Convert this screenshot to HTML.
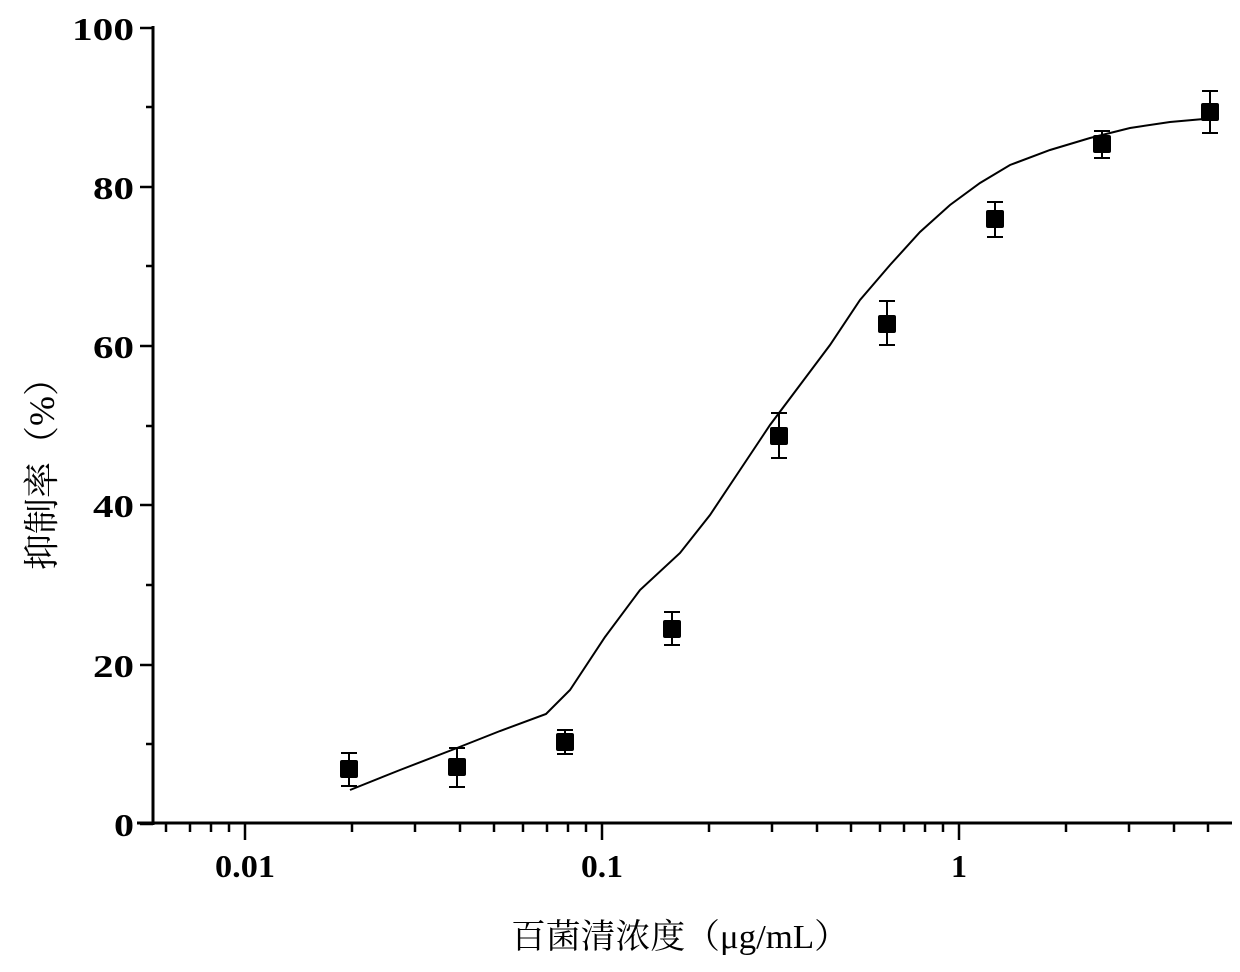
<!DOCTYPE html>
<html><head><meta charset="utf-8"><style>
body{margin:0;background:#fff;}
text{font-family:"Liberation Serif","Noto Serif CJK SC",serif;fill:#000;}
</style></head><body>
<svg width="1240" height="967" viewBox="0 0 1240 967" xmlns="http://www.w3.org/2000/svg">
<g stroke="#000" stroke-width="3" fill="none">
<line x1="153" y1="26" x2="153" y2="825"/>
<line x1="137" y1="823" x2="1232" y2="823"/>
</g>
<g stroke="#000" stroke-width="2.5">
<line x1="140" y1="824" x2="153" y2="824"/>
<line x1="140" y1="665" x2="153" y2="665"/>
<line x1="140" y1="505" x2="153" y2="505"/>
<line x1="140" y1="346" x2="153" y2="346"/>
<line x1="140" y1="187" x2="153" y2="187"/>
<line x1="140" y1="28" x2="153" y2="28"/>
<line x1="146" y1="744" x2="153" y2="744"/>
<line x1="146" y1="585" x2="153" y2="585"/>
<line x1="146" y1="426" x2="153" y2="426"/>
<line x1="146" y1="266" x2="153" y2="266"/>
<line x1="146" y1="107" x2="153" y2="107"/>
<line x1="245" y1="823" x2="245" y2="840"/>
<line x1="602" y1="823" x2="602" y2="840"/>
<line x1="959" y1="823" x2="959" y2="840"/>
<line x1="166" y1="823" x2="166" y2="832"/><line x1="190" y1="823" x2="190" y2="832"/><line x1="211" y1="823" x2="211" y2="832"/><line x1="229" y1="823" x2="229" y2="832"/>
<line x1="352" y1="823" x2="352" y2="832"/><line x1="415" y1="823" x2="415" y2="832"/><line x1="460" y1="823" x2="460" y2="832"/><line x1="494" y1="823" x2="494" y2="832"/><line x1="523" y1="823" x2="523" y2="832"/><line x1="547" y1="823" x2="547" y2="832"/><line x1="568" y1="823" x2="568" y2="832"/><line x1="586" y1="823" x2="586" y2="832"/>
<line x1="709" y1="823" x2="709" y2="832"/><line x1="772" y1="823" x2="772" y2="832"/><line x1="817" y1="823" x2="817" y2="832"/><line x1="851" y1="823" x2="851" y2="832"/><line x1="880" y1="823" x2="880" y2="832"/><line x1="904" y1="823" x2="904" y2="832"/><line x1="925" y1="823" x2="925" y2="832"/><line x1="943" y1="823" x2="943" y2="832"/>
<line x1="1066" y1="823" x2="1066" y2="832"/><line x1="1129" y1="823" x2="1129" y2="832"/><line x1="1174" y1="823" x2="1174" y2="832"/><line x1="1208" y1="823" x2="1208" y2="832"/>
</g>
<g font-size="32" font-weight="bold" text-anchor="end">
<text x="134" y="836" textLength="20" lengthAdjust="spacingAndGlyphs">0</text>
<text x="134" y="677" textLength="41" lengthAdjust="spacingAndGlyphs">20</text>
<text x="134" y="517" textLength="41" lengthAdjust="spacingAndGlyphs">40</text>
<text x="134" y="358" textLength="41" lengthAdjust="spacingAndGlyphs">60</text>
<text x="134" y="199" textLength="41" lengthAdjust="spacingAndGlyphs">80</text>
<text x="134" y="40" textLength="62" lengthAdjust="spacingAndGlyphs">100</text>
</g>
<g font-size="32" font-weight="bold" text-anchor="middle">
<text x="245" y="877" textLength="60" lengthAdjust="spacingAndGlyphs">0.01</text>
<text x="602" y="877" textLength="42" lengthAdjust="spacingAndGlyphs">0.1</text>
<text x="959" y="877">1</text>
</g>
<text x="680" y="948" font-size="34" text-anchor="middle" textLength="338" lengthAdjust="spacingAndGlyphs">百菌清浓度（μg/mL）</text>
<text transform="translate(54,465) rotate(-90)" font-size="36" text-anchor="middle">抑制率（%）</text>
<polyline fill="none" stroke="#000" stroke-width="2" points="350,790 400,770 457,748 500,731 546,714 570,690 605,637 640,590 680,553 710,515 740,470 770,425 800,385 830,345 860,300 890,265 920,232 950,205 980,183 1010,165 1050,150 1090,138 1130,128 1170,122 1215,118"/>
<g stroke="#000" stroke-width="2">
<line x1="349" y1="753" x2="349" y2="786"/><line x1="341" y1="753" x2="357" y2="753"/><line x1="341" y1="786" x2="357" y2="786"/>
<line x1="457" y1="748" x2="457" y2="787"/><line x1="449" y1="748" x2="465" y2="748"/><line x1="449" y1="787" x2="465" y2="787"/>
<line x1="565" y1="730" x2="565" y2="754"/><line x1="557" y1="730" x2="573" y2="730"/><line x1="557" y1="754" x2="573" y2="754"/>
<line x1="672" y1="612" x2="672" y2="645"/><line x1="664" y1="612" x2="680" y2="612"/><line x1="664" y1="645" x2="680" y2="645"/>
<line x1="779" y1="413" x2="779" y2="458"/><line x1="771" y1="413" x2="787" y2="413"/><line x1="771" y1="458" x2="787" y2="458"/>
<line x1="887" y1="301" x2="887" y2="345"/><line x1="879" y1="301" x2="895" y2="301"/><line x1="879" y1="345" x2="895" y2="345"/>
<line x1="995" y1="202" x2="995" y2="237"/><line x1="987" y1="202" x2="1003" y2="202"/><line x1="987" y1="237" x2="1003" y2="237"/>
<line x1="1102" y1="131" x2="1102" y2="158"/><line x1="1094" y1="131" x2="1110" y2="131"/><line x1="1094" y1="158" x2="1110" y2="158"/>
<line x1="1210" y1="91" x2="1210" y2="133"/><line x1="1202" y1="91" x2="1218" y2="91"/><line x1="1202" y1="133" x2="1218" y2="133"/>
</g>
<g fill="#000">
<rect x="340" y="760" width="18" height="18" rx="2"/>
<rect x="448" y="758" width="18" height="18" rx="2"/>
<rect x="556" y="733" width="18" height="18" rx="2"/>
<rect x="663" y="620" width="18" height="18" rx="2"/>
<rect x="770" y="427" width="18" height="18" rx="2"/>
<rect x="878" y="315" width="18" height="18" rx="2"/>
<rect x="986" y="210" width="18" height="18" rx="2"/>
<rect x="1093" y="135" width="18" height="18" rx="2"/>
<rect x="1201" y="103" width="18" height="18" rx="2"/>
</g>
</svg>
</body></html>
